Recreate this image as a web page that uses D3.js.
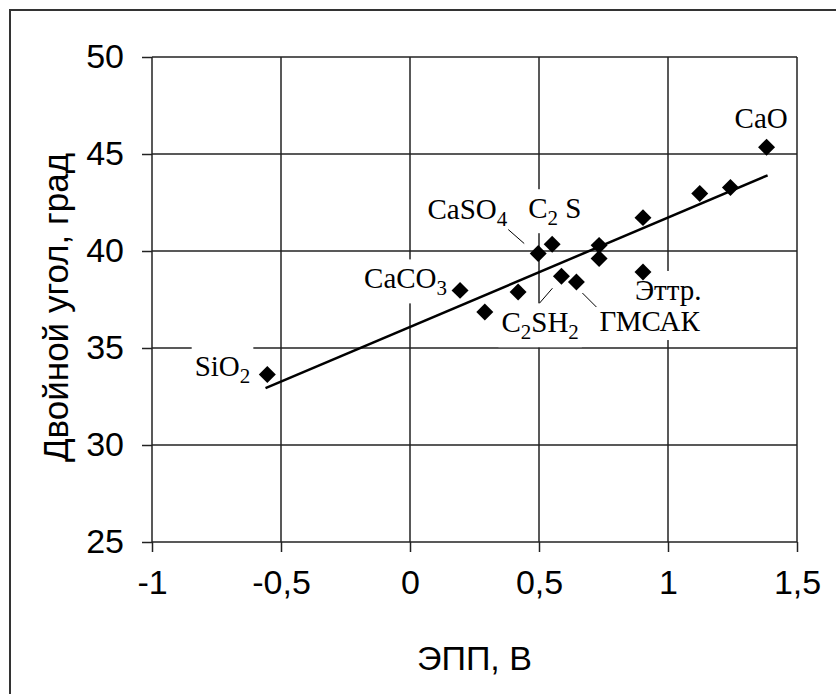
<!DOCTYPE html>
<meta charset="utf-8">
<style>
    body { margin: 0; background: #fff; }
    .grid line { stroke: #222; stroke-width: 1.5px; }
    .axis path { display: none; }
    .axis line { stroke: #222; stroke-width: 1.5px; }
    .axis text { font-family: "Liberation Sans", Arial, sans-serif; font-size: 34px; fill: #000; }
    .label { font-family: "Liberation Serif", "Times New Roman", serif; font-size: 29px; fill: #000; }
</style>
<svg width="836" height="694"></svg>
<script src="https://d3js.org/d3.v7.min.js"></script>
<script>

    // axis ticks
    var xTicks = [-1, -0.5, 0, 0.5, 1, 1.5];
    var yTicks = [25, 30, 35, 40, 45, 50];

    // points: ЭПП (В) and double angle (град)
    var epp = [-0.553, 0.194, 0.29, 0.419, 0.497, 0.551, 0.587, 0.645, 0.733, 0.733, 0.903, 0.903, 1.123, 1.242, 1.382];
    var angle = [33.63, 37.97, 36.86, 37.89, 39.87, 40.35, 38.70, 38.40, 40.29, 39.61, 41.72, 38.92, 42.96, 43.27, 45.35];
    var names = ["SiO2", "CaCO3", "", "", "CaSO4", "C2 S", "C2SH2", "ГМСАК", "", "", "", "Эттр.", "", "", "CaO"];

    // linear trend end points
    var trendX = [-0.56, 1.386];
    var trendY = [32.93, 43.9];

    var xTitle = "ЭПП, В";
    var yTitle = "Двойной угол, град";

    // label placement relative to its point (pixels)
    var labelPos = {
        "SiO2": { anchor: "end", dx: -17, dy: 1 },
        "CaCO3": { anchor: "end", dx: -13, dy: -2 },
        "CaSO4": { anchor: "end", dx: -31, dy: -35, lead: [-30, -24, -14, -10] },
        "C2 S": { anchor: "start", dx: -24, dy: -26 },
        "C2SH2": { anchor: "start", dx: -60, dy: 56, lead: [-9, 12, -22, 27] },
        "ГМСАК": { anchor: "start", dx: 23, dy: 49, lead: [6, 11, 20, 25] },
        "Эттр.": { anchor: "start", dx: -8, dy: 28 },
        "CaO": { anchor: "start", dx: -32, dy: -19 }
    };

    var svg = d3.select("svg");
    var margin = { top: 57, right: 39, bottom: 152, left: 152 },
        width = +svg.attr("width") - margin.left - margin.right,
        height = +svg.attr("height") - margin.top - margin.bottom;

    // outer frame, only left and top edges are in view
    svg.append("rect")
        .attr("x", 10).attr("y", 10)
        .attr("width", 1000).attr("height", 1000)
        .attr("fill", "none")
        .attr("stroke", "#333")
        .attr("stroke-width", 2);

    var g = svg.append("g").attr("transform", "translate(" + margin.left + "," + margin.top + ")");

    var x = d3.scaleLinear().domain([-1, 1.5]).range([0, width]),
        y = d3.scaleLinear().domain([25, 50]).range([height, 0]);

    var fmt = function (d) { return String(d).replace(".", ","); };

    // gridlines
    var grid = g.append("g").attr("class", "grid");
    grid.selectAll(".gx").data(xTicks).enter().append("line")
        .attr("x1", d => x(d)).attr("x2", d => x(d))
        .attr("y1", 0).attr("y2", height);
    grid.selectAll(".gy").data(yTicks).enter().append("line")
        .attr("x1", 0).attr("x2", width)
        .attr("y1", d => y(d)).attr("y2", d => y(d));

    g.append("g")
        .attr("class", "axis axis--x")
        .attr("transform", "translate(0," + height + ")")
        .call(d3.axisBottom(x).tickValues(xTicks).tickFormat(fmt).tickSize(10).tickPadding(18));

    g.append("g")
        .attr("class", "axis axis--y")
        .call(d3.axisLeft(y).tickValues(yTicks).tickSize(10).tickPadding(18));

    // axis titles
    svg.append("text")
        .attr("x", margin.left + width / 2)
        .attr("y", 670)
        .attr("text-anchor", "middle")
        .style("font", "34px 'Liberation Sans', Arial, sans-serif")
        .text(xTitle);

    svg.append("text")
        .attr("transform", "translate(68," + (margin.top + height / 2 + 8) + ") rotate(-90)")
        .attr("text-anchor", "middle")
        .style("font", "35px 'Liberation Sans', Arial, sans-serif")
        .text(yTitle);

    // trend line
    g.append("path")
        .datum(trendX.map((v, i) => [v, trendY[i]]))
        .attr("fill", "none")
        .attr("stroke", "#000")
        .attr("stroke-width", 2.5)
        .attr("d", d3.line().x(d => x(d[0])).y(d => y(d[1])));

    // data labels with white boxes
    var points = epp.map((v, i) => ({ x: v, y: angle[i], name: names[i] }));

    points.filter(d => d.name).forEach(function (d) {
        var p = labelPos[d.name];
        var px = x(d.x), py = y(d.y);
        var lg = g.append("g");
        var box = lg.append("rect").attr("fill", "#fff");
        var t = lg.append("text")
            .attr("class", "label")
            .attr("x", px + p.dx)
            .attr("y", py + p.dy)
            .attr("text-anchor", p.anchor);
        var down = false;
        d.name.match(/\d+|\D+/g).forEach(function (part) {
            var sub = /\d/.test(part);
            t.append("tspan")
                .attr("font-size", sub ? 21 : null)
                .attr("dy", sub ? 7 : (down ? -7 : 0))
                .text(part);
            down = sub;
        });
        var bb = t.node().getBBox();
        box.attr("x", bb.x - 3).attr("y", bb.y - 3)
            .attr("width", bb.width + 6).attr("height", bb.height + 6);
        if (p.lead) {
            g.append("line")
                .attr("x1", px + p.lead[0]).attr("y1", py + p.lead[1])
                .attr("x2", px + p.lead[2]).attr("y2", py + p.lead[3])
                .attr("stroke", "#000").attr("stroke-width", 1);
        }
    });

    // diamond markers
    g.selectAll(".pt")
        .data(points)
        .enter().append("path")
        .attr("class", "pt")
        .attr("transform", d => "translate(" + x(d.x) + "," + y(d.y) + ") rotate(45)")
        .attr("d", d3.symbol().type(d3.symbolSquare).size(144))
        .attr("fill", "#000");

</script>
